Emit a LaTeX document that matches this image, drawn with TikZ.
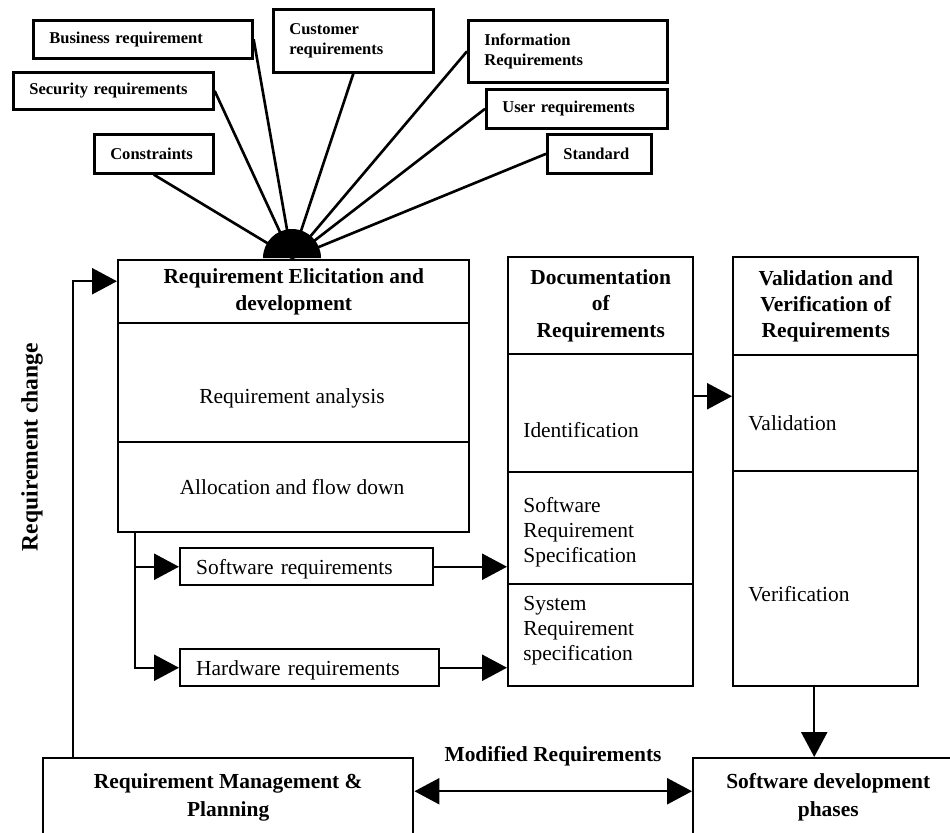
\documentclass[tikz,border=0pt]{standalone}
\usepackage{fontspec}
\setmainfont{Liberation Serif}
\usepackage{tikz}
\usetikzlibrary{positioning,arrows.meta,calc}

\newcommand{\bigfnt}{\fontsize{12.2}{14.2}\selectfont}
\newcommand{\smallfnt}{\fontsize{9.4}{11.4}\selectfont}

\begin{document}
\begin{tikzpicture}[
  x=0.2mm, y=-0.2mm,
  srcbox/.style={draw=black, line width=1.5pt, anchor=north west, align=left, inner xsep=3.2mm, inner ysep=0pt, font=\smallfnt\bfseries},
  secbox/.style={draw=black, line width=1.4pt, anchor=north west, inner sep=0pt},
  headtxt/.style={align=center, font=\fontsize{12.2}{15}\selectfont\bfseries},
  bodytxt/.style={align=left, anchor=west, inner sep=0pt, font=\bigfnt},
  spoke/.style={draw=black, line width=1.5pt},
  flow/.style={-{Triangle[length=5mm,width=5.2mm]}, draw=black, line width=1.4pt},
  twoflow/.style={{Triangle[length=5mm,width=5.2mm]}-{Triangle[length=5mm,width=5.2mm]}, draw=black, line width=1.4pt}
]
  \path[use as bounding box, clip] (0,0) rectangle (950,832);

  % sources feeding the elicitation step
  \node[srcbox, text width=37.4mm, minimum height=7.6mm] (bizreq) at (32,19) {Business requirement};
  \node[srcbox, text width=25.6mm, minimum height=12.6mm] (custreq) at (272,8) {Customer\\requirements};
  \node[srcbox, text width=33.6mm, minimum height=7.4mm] (secreq) at (12,71) {Security requirements};
  \node[srcbox, text width=17.4mm, minimum height=7.8mm] (constr) at (93,133) {Constraints};
  \node[srcbox, text width=33.4mm, minimum height=12.4mm] (inforeq) at (467,19) {Information\\Requirements};
  \node[srcbox, text width=29.8mm, minimum height=7.8mm] (userreq) at (485,88) {User requirements};
  \node[srcbox, text width=14.4mm, minimum height=7.8mm] (stdreq) at (546,133) {Standard};

  \coordinate (hub) at (292,258);
  \foreach \src/\side in {constr/south, secreq/east, bizreq/east, custreq/south, inforeq/west, userreq/west, stdreq/west}
    \draw[spoke] (\src.\side) -- (hub);
  \fill ([xshift=-5.8mm]hub) arc[start angle=180, end angle=0, radius=5.8mm] -- cycle;

  % elicitation column
  \node[secbox, headtxt, minimum width=70.2mm, minimum height=12.6mm] (elictitle) at (117,259) {Requirement Elicitation and\\development};
  \node[secbox, minimum width=70.2mm, minimum height=23.8mm] (analysis) at (117,322) {};
  \node[secbox, minimum width=70.2mm, minimum height=18mm] (alloc) at (117,441) {};
  \node[bodytxt, anchor=center] (analysistxt) at (292,398) {Requirement analysis};
  \node[bodytxt, anchor=center] (alloctxt) at (292,487) {Allocation and flow down};

  \node[secbox, bodytxt, anchor=north west, text width=44.2mm, inner xsep=3.2mm, minimum height=7.4mm, text depth=-0.6mm] (swreq) at (179,547) {Software requirements};
  \node[secbox, bodytxt, anchor=north west, text width=45.4mm, inner xsep=3.2mm, minimum height=7.4mm, text depth=-0.6mm] (hwreq) at (179,648) {Hardware requirements};

  % documentation column
  \node[secbox, headtxt, minimum width=37mm, minimum height=19.4mm] (doctitle) at (507,256) {Documentation\\of\\Requirements};
  \node[secbox, minimum width=37mm, minimum height=23.6mm] (ident) at (507,353) {};
  \node[secbox, minimum width=37mm, minimum height=22.4mm] (srs) at (507,471) {};
  \node[secbox, minimum width=37mm, minimum height=20.4mm] (sysrs) at (507,583) {};
  \node[bodytxt] (identtxt) at (523,430) {Identification};
  \node[bodytxt] (srstxt) at (523,532) {Software\\Requirement\\Specification};
  \node[bodytxt] (sysrstxt) at (523,631) {System\\Requirement\\specification};

  % validation column
  \node[secbox, headtxt, minimum width=37mm, minimum height=19.6mm] (valtitle) at (732,256) {Validation and\\Verification of\\Requirements};
  \node[secbox, minimum width=37mm, minimum height=23.2mm] (valid) at (732,354) {};
  \node[secbox, minimum width=37mm, minimum height=43mm] (verif) at (732,470) {};
  \node[bodytxt] (validtxt) at (748,423) {Validation};
  \node[bodytxt] (veriftxt) at (748,594) {Verification};

  % bottom row
  \node[secbox, headtxt, font=\fontsize{12.2}{16}\selectfont\bfseries, minimum width=74mm, minimum height=15.6mm] (mgmt) at (42,757) {Requirement Management \&\\Planning};
  \node[secbox, headtxt, font=\fontsize{12.2}{16}\selectfont\bfseries, minimum width=54mm, minimum height=15.6mm] (sdp) at (692,757) {Software development\\phases};
  \node[font=\fontsize{12.2}{14}\selectfont\bfseries] (modlabel) at (553,756) {Modified Requirements};
  \node[rotate=90, font=\fontsize{13.4}{15}\selectfont\bfseries] (chglabel) at (32,447) {Requirement change};

  % connectors
  \draw[flow] ([xshift=3.6mm]alloc.south west) |- (swreq.west);
  \draw[flow] ([xshift=3.6mm]alloc.south west) |- (hwreq.west);
  \draw[flow] (swreq.east) -- (swreq.east -| srs.west);
  \draw[flow] (hwreq.east) -- (hwreq.east -| sysrs.west);
  \draw[flow] ([yshift=3.4mm]ident.east) -- ([yshift=3.4mm]ident.east -| valid.west);
  \draw[flow] ([xshift=-2.3mm]verif.south) -- ([xshift=-2.3mm]verif.south |- sdp.north);
  \draw[twoflow] ([yshift=1.2mm]mgmt.east) -- ([yshift=1.2mm]sdp.west);
  \draw[flow] ([xshift=6.2mm]mgmt.north west) |- ([yshift=2.1mm]elictitle.west);
\end{tikzpicture}
\end{document}
